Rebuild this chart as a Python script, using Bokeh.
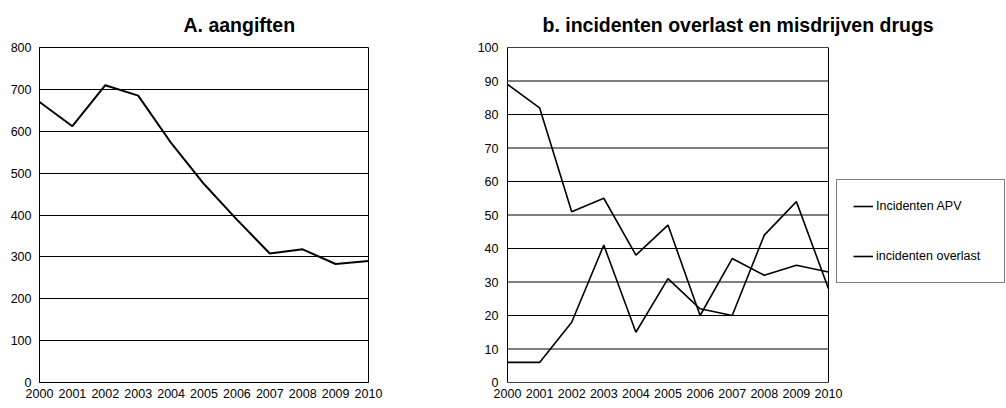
from bokeh.plotting import figure
from bokeh.models import Range1d, FixedTicker, Legend, LegendItem
from bokeh.layouts import row
from bokeh.embed import file_html
from bokeh.resources import INLINE

years = [2000, 2001, 2002, 2003, 2004, 2005, 2006, 2007, 2008, 2009, 2010]
aangiften = [670, 612, 710, 685, 572, 474, 389, 308, 318, 283, 290]
incidenten_apv = [89, 82, 51, 55, 38, 47, 20, 37, 32, 35, 33]
incidenten_overlast = [6, 6, 18, 41, 15, 31, 22, 20, 44, 54, 28]
left_ticks = [0, 100, 200, 300, 400, 500, 600, 700, 800]
right_ticks = [0, 10, 20, 30, 40, 50, 60, 70, 80, 90, 100]

FONT = "Liberation Sans"


def style(p, yticks):
    p.xaxis.ticker = FixedTicker(ticks=years)
    p.yaxis.ticker = FixedTicker(ticks=yticks)
    p.xgrid.visible = False
    p.ygrid.grid_line_color = "black"
    p.ygrid.grid_line_width = 1
    p.outline_line_color = "black"
    p.outline_line_width = 1
    for ax in p.axis:
        ax.major_tick_out = 0
        ax.major_tick_in = 0
        ax.minor_tick_out = 0
        ax.minor_tick_in = 0
        ax.axis_line_color = "black"
        ax.major_label_text_font = FONT
        ax.major_label_text_font_size = "12.5px"
        ax.major_label_text_color = "black"
    p.xaxis.major_label_standoff = 6
    p.yaxis.major_label_standoff = 8
    p.title.text_font = FONT
    p.title.text_font_style = "bold"
    p.title.text_font_size = "19.5px"
    p.title.text_color = "black"
    p.title.align = "left"
    p.title.vertical_align = "top"
    p.title.standoff = 20


# ---- left chart -------------------------------------------------------
p1 = figure(width=448, height=408, title="A. aangiften",
            x_range=Range1d(years[0], years[-1]), y_range=Range1d(left_ticks[0], left_ticks[-1]),
            output_backend="svg", toolbar_location=None,
            min_border_left=39, min_border_right=80,
            min_border_top=46, min_border_bottom=26)
style(p1, left_ticks)
p1.title.offset = 144
p1.line(years, aangiften, line_color="black", line_width=2)

# ---- right chart (frame extended to the right to hold the legend) -------
P2_W = 558
P2_LEFT = 59
PLOT_W = 321  # width of the visible plot area in pixels
x_end = years[0] + (years[-1] - years[0]) * (P2_W - P2_LEFT) / PLOT_W

p2 = figure(width=P2_W, height=408, title="b. incidenten overlast en misdrijven drugs",
            x_range=Range1d(years[0], x_end), y_range=Range1d(right_ticks[0], right_ticks[-1]),
            output_backend="svg", toolbar_location=None,
            min_border_left=P2_LEFT, min_border_right=0,
            min_border_top=47, min_border_bottom=24)
style(p2, right_ticks)
p2.yaxis.major_label_standoff = 9
p2.title.offset = 35
p2.ygrid.visible = False
p2.outline_line_color = None
p2.xaxis.axis_line_color = None
n = len(right_ticks)
p2.segment(x0=[years[0]] * n, x1=[years[-1]] * n, y0=right_ticks, y1=right_ticks,
           line_color="black", line_width=1)
p2.quad(left=[years[0]], right=[years[-1]], bottom=[right_ticks[0]], top=[right_ticks[-1]],
        fill_color=None, line_color="black", line_width=1)
r1 = p2.line(years, incidenten_apv, line_color="black", line_width=1.6)
r2 = p2.line(years, incidenten_overlast, line_color="black", line_width=1.6)

legend = Legend(items=[LegendItem(label="Incidenten APV", renderers=[r1]),
                       LegendItem(label="incidenten overlast", renderers=[r2])],
                location=(329, 99), label_text_font=FONT, label_text_font_size="12.5px",
                label_text_color="black", glyph_width=20, glyph_height=20,
                label_height=20, label_width=112, spacing=30, padding=16,
                label_standoff=3, border_line_color="black", border_line_width=1,
                margin=0, background_fill_alpha=1)
p2.add_layout(legend)

layout = row(p1, p2)
open("out.html", "w").write(file_html(layout, INLINE))
